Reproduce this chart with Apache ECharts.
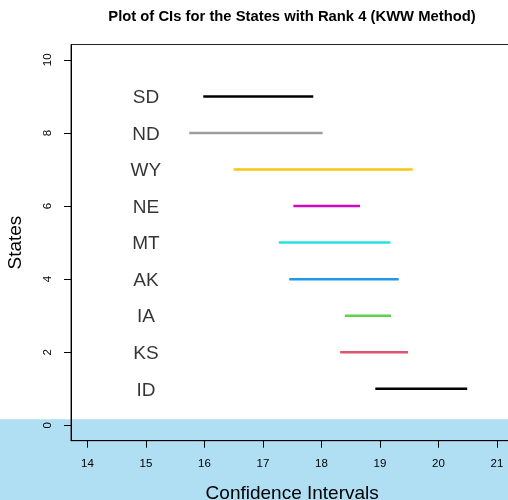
<!DOCTYPE html>
<html>
<head>
<meta charset="utf-8">
<script src="https://cdn.jsdelivr.net/npm/echarts@6/dist/echarts.min.js"></script>
<style>html,body{margin:0;padding:0;background:#fff}#c{width:508px;height:500px}</style>
</head>
<body>
<div id="c"></div>
<script>
var states = ['ID','KS','IA','AK','MT','NE','WY','ND','SD'];
var yPos = [1,2,3,4,5,6,7,8,9];
var lower = [18.92,18.32,18.40,17.45,17.27,17.52,16.50,15.74,15.98];
var upper = [20.49,19.48,19.19,19.32,19.18,18.66,19.56,18.02,17.86];
var colors = ['#000000','#DF536B','#61D04F','#2297E6','#28E2E5','#CD0BBC','#F5C710','#9E9E9E','#000000'];
var xTicks = [14,15,16,17,18,19,20,21];
var yTicks = [0,2,4,6,8,10];
var labelX = 15;

var FONT = 'Liberation Sans, Arial, Helvetica, sans-serif';
var series = [];
for (var i = 0; i < states.length; i++) {
  series.push({
    type: 'line',
    data: [[lower[i], yPos[i]], [upper[i], yPos[i]]],
    symbol: 'none',
    lineStyle: {color: colors[i], width: 2.5},
    z: 3,
    silent: true
  });
}
series.push({
  type: 'scatter',
  symbolSize: 0,
  data: states.map(function(s, i){ return {value: [labelX, yPos[i]], name: s}; }),
  label: {show: true, position: 'inside', offset: [0, 1.5], formatter: function(p){return p.name;}, color: '#000', fontSize: 19, fontFamily: FONT},
  silent: true
});

var chart = echarts.init(document.getElementById('c'), null, {renderer: 'canvas'});
chart.setOption({
  animation: false,
  backgroundColor: '#fff',
  title: {
    text: 'Plot of CIs for the States with Rank 4 (KWW Method)',
    left: 287, top: 4, textAlign: 'center',
    textStyle: {fontFamily: FONT, fontSize: 14.8, fontWeight: 'bold', color: '#000'}
  },
  graphic: [{
    type: 'rect', z: -100, silent: true,
    shape: {x: 0, y: 419.3, width: 508, height: 81},
    style: {fill: '#B0DEF2'}
  }],
  grid: {left: 71, top: 44.5, width: 442.4, height: 396.2, show: true, borderColor: '#222', borderWidth: 1, backgroundColor: 'transparent', containLabel: false, outerBoundsMode: 'none'},
  xAxis: {
    type: 'value', min: 13.72, max: 21.28,
    splitLine: {show: false},
    axisLine: {show: true, onZero: false, lineStyle: {color: '#000', width: 1}},
    axisTick: {show: true, length: 7, lineStyle: {color: '#000'}, customValues: xTicks},
    axisLabel: {customValues: xTicks, margin: 17, color: '#000', fontSize: 11.5, fontFamily: FONT},
    name: 'Confidence Intervals', nameLocation: 'middle', nameGap: 44,
    nameTextStyle: {fontFamily: FONT, fontSize: 19, color: '#000'}
  },
  yAxis: {
    type: 'value', min: -0.42, max: 10.42,
    splitLine: {show: false},
    axisLine: {show: true, onZero: false, lineStyle: {color: '#000', width: 1}},
    axisTick: {show: true, length: 7, lineStyle: {color: '#000'}, customValues: yTicks},
    axisLabel: {customValues: yTicks, rotate: 90, margin: 17, color: '#000', fontSize: 11.5, fontFamily: FONT},
    name: 'States', nameLocation: 'middle', nameGap: 46,
    nameTextStyle: {fontFamily: FONT, fontSize: 19, color: '#000'}
  },
  series: series
});
</script>
</body>
</html>
